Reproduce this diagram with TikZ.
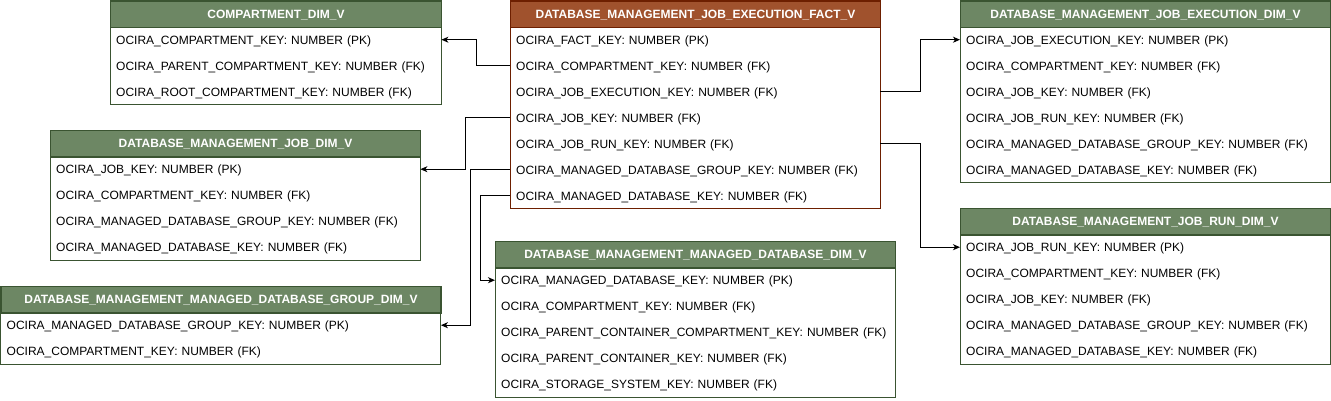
\documentclass[tikz,border=0pt]{standalone}
\usepackage{fontspec}
\setmainfont{Liberation Sans}
\usetikzlibrary{arrows.meta,calc}
\definecolor{fillgreen}{HTML}{6D8764}
\definecolor{strokegreen}{HTML}{3A5431}
\definecolor{fillbrown}{HTML}{A0522D}
\definecolor{strokebrown}{HTML}{6D1F00}
\tikzset{
  hdrgreen/.style={fill=fillgreen, draw=strokegreen},
  hdrbrown/.style={fill=fillbrown, draw=strokebrown},
  hdr/.style={font=\bfseries\fontsize{12pt}{14pt}\selectfont, text=white, minimum height=26pt, inner sep=0pt, line width=1pt, text height=8.6pt, text depth=0pt},
  rowbox/.style={font=\fontsize{12pt}{14pt}\selectfont, minimum height=26pt, inner xsep=6pt, inner ysep=0pt, align=left, text height=8.6pt, text depth=0pt},
  fk/.style={draw=black, line width=1pt, -{Stealth[length=7pt,width=6pt,inset=2pt]}},
}
\newcommand\erdtable[8]{%
  \pgfmathsetlengthmacro\erdtw{#4pt-12pt}%
  \node[hdr, hdr#5, minimum width=#4pt, anchor=north west] (#1-h) at (#2,#3) {#6};
  \foreach \rowtext [count=\i] in {#8} {
    \node[rowbox, text width=\erdtw, anchor=north west] (#1-\i) at (#2,{#3+26*\i}) {\rowtext};
  }
  \draw[line width=1pt, draw=stroke#5] (#1-h.north west) rectangle (#1-#7.south east);
  \draw[line width=1pt, draw=stroke#5] (#1-h.south west) -- (#1-h.south east);
}
\begin{document}
\begin{tikzpicture}[x=1pt,y=-1pt]
\useasboundingbox (0,0) rectangle (1331,400);
\erdtable{comp}{110}{0.5}{331}{green}{COMPARTMENT\_DIM\_V}{3}{%
  OCIRA\_COMPARTMENT\_KEY: NUMBER (PK),
  OCIRA\_PARENT\_COMPARTMENT\_KEY: NUMBER (FK),
  OCIRA\_ROOT\_COMPARTMENT\_KEY: NUMBER (FK)}
\erdtable{fact}{510}{0.5}{370}{brown}{DATABASE\_MANAGEMENT\_JOB\_EXECUTION\_FACT\_V}{7}{%
  OCIRA\_FACT\_KEY: NUMBER (PK),
  OCIRA\_COMPARTMENT\_KEY: NUMBER (FK),
  OCIRA\_JOB\_EXECUTION\_KEY: NUMBER (FK),
  OCIRA\_JOB\_KEY: NUMBER (FK),
  OCIRA\_JOB\_RUN\_KEY: NUMBER (FK),
  OCIRA\_MANAGED\_DATABASE\_GROUP\_KEY: NUMBER (FK),
  OCIRA\_MANAGED\_DATABASE\_KEY: NUMBER (FK)}
\erdtable{exec}{960}{0.5}{370}{green}{DATABASE\_MANAGEMENT\_JOB\_EXECUTION\_DIM\_V}{6}{%
  OCIRA\_JOB\_EXECUTION\_KEY: NUMBER (PK),
  OCIRA\_COMPARTMENT\_KEY: NUMBER (FK),
  OCIRA\_JOB\_KEY: NUMBER (FK),
  OCIRA\_JOB\_RUN\_KEY: NUMBER (FK),
  OCIRA\_MANAGED\_DATABASE\_GROUP\_KEY: NUMBER (FK),
  OCIRA\_MANAGED\_DATABASE\_KEY: NUMBER (FK)}
\erdtable{job}{50}{130}{370}{green}{DATABASE\_MANAGEMENT\_JOB\_DIM\_V}{4}{%
  OCIRA\_JOB\_KEY: NUMBER (PK),
  OCIRA\_COMPARTMENT\_KEY: NUMBER (FK),
  OCIRA\_MANAGED\_DATABASE\_GROUP\_KEY: NUMBER (FK),
  OCIRA\_MANAGED\_DATABASE\_KEY: NUMBER (FK)}
\erdtable{run}{960}{208}{370}{green}{DATABASE\_MANAGEMENT\_JOB\_RUN\_DIM\_V}{5}{%
  OCIRA\_JOB\_RUN\_KEY: NUMBER (PK),
  OCIRA\_COMPARTMENT\_KEY: NUMBER (FK),
  OCIRA\_JOB\_KEY: NUMBER (FK),
  OCIRA\_MANAGED\_DATABASE\_GROUP\_KEY: NUMBER (FK),
  OCIRA\_MANAGED\_DATABASE\_KEY: NUMBER (FK)}
\erdtable{mdb}{495}{241}{400}{green}{DATABASE\_MANAGEMENT\_MANAGED\_DATABASE\_DIM\_V}{5}{%
  OCIRA\_MANAGED\_DATABASE\_KEY: NUMBER (PK),
  OCIRA\_COMPARTMENT\_KEY: NUMBER (FK),
  OCIRA\_PARENT\_CONTAINER\_COMPARTMENT\_KEY: NUMBER (FK),
  OCIRA\_PARENT\_CONTAINER\_KEY: NUMBER (FK),
  OCIRA\_STORAGE\_SYSTEM\_KEY: NUMBER (FK)}
\erdtable{grp}{0.5}{286}{440}{green}{DATABASE\_MANAGEMENT\_MANAGED\_DATABASE\_GROUP\_DIM\_V}{2}{%
  OCIRA\_MANAGED\_DATABASE\_GROUP\_KEY: NUMBER (PK),
  OCIRA\_COMPARTMENT\_KEY: NUMBER (FK)}
% connectors
\draw[fk] (fact-2.west) -- ++(-34,0) |- (comp-1.east);
\draw[fk] (fact-4.west) -- ++(-45,0) |- (job-1.east);
\draw[fk] (fact-6.west) -- ++(-40,0) |- (grp-1.east);
\draw[fk] (fact-7.west) -- ++(-30,0) |- (mdb-1.west);
\draw[fk] (fact-3.east) -- ++(40,0) |- (exec-1.west);
\draw[fk] (fact-5.east) -- ++(40,0) |- (run-1.west);
\end{tikzpicture}
\end{document}
